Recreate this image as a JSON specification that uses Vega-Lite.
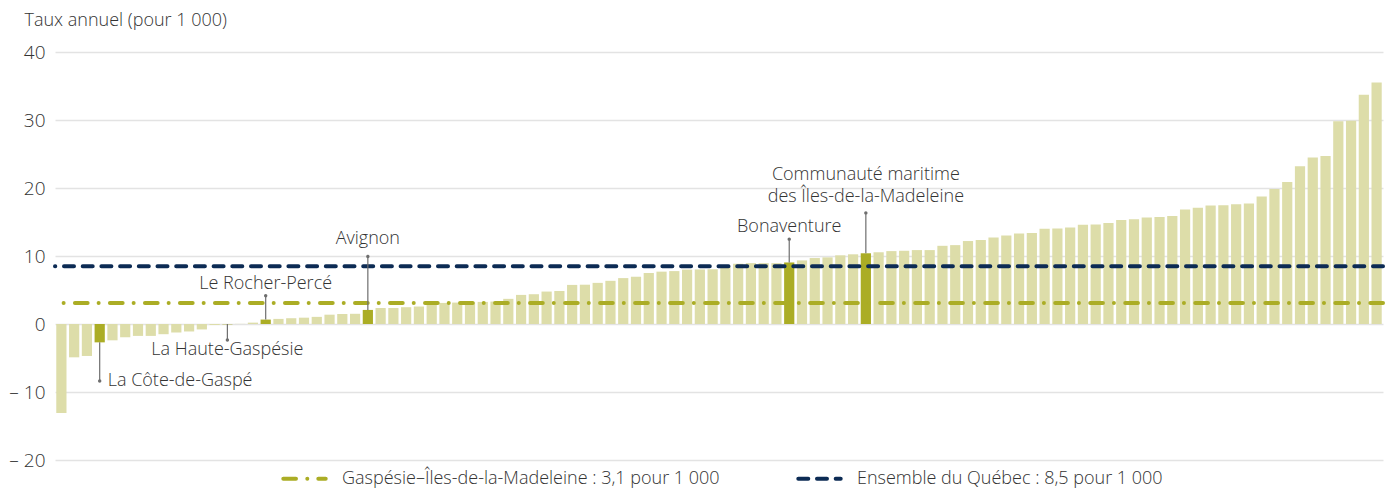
{
  "$schema": "https://vega.github.io/schema/vega-lite/v6.json",
  "width": 1328,
  "height": 408,
  "autosize": "none",
  "padding": {"left": 55, "top": 52, "right": 5, "bottom": 30},
  "config": {
    "font": "Open Sans",
    "view": {"stroke": null}
  },
  "datasets": {
    "barres": [
      {"rang": 1, "valeur": -13.1, "gim": false},
      {"rang": 2, "valeur": -4.9, "gim": false},
      {"rang": 3, "valeur": -4.7, "gim": false},
      {"rang": 4, "valeur": -2.7, "gim": true},
      {"rang": 5, "valeur": -2.4, "gim": false},
      {"rang": 6, "valeur": -1.95, "gim": false},
      {"rang": 7, "valeur": -1.75, "gim": false},
      {"rang": 8, "valeur": -1.75, "gim": false},
      {"rang": 9, "valeur": -1.5, "gim": false},
      {"rang": 10, "valeur": -1.25, "gim": false},
      {"rang": 11, "valeur": -1.1, "gim": false},
      {"rang": 12, "valeur": -0.8, "gim": false},
      {"rang": 13, "valeur": -0.15, "gim": false},
      {"rang": 14, "valeur": -0.05, "gim": true},
      {"rang": 15, "valeur": 0.02, "gim": false},
      {"rang": 16, "valeur": 0.2, "gim": false},
      {"rang": 17, "valeur": 0.65, "gim": true},
      {"rang": 18, "valeur": 0.75, "gim": false},
      {"rang": 19, "valeur": 0.85, "gim": false},
      {"rang": 20, "valeur": 0.93, "gim": false},
      {"rang": 21, "valeur": 1.05, "gim": false},
      {"rang": 22, "valeur": 1.37, "gim": false},
      {"rang": 23, "valeur": 1.47, "gim": false},
      {"rang": 24, "valeur": 1.5, "gim": false},
      {"rang": 25, "valeur": 2.07, "gim": true},
      {"rang": 26, "valeur": 2.35, "gim": false},
      {"rang": 27, "valeur": 2.35, "gim": false},
      {"rang": 28, "valeur": 2.47, "gim": false},
      {"rang": 29, "valeur": 2.57, "gim": false},
      {"rang": 30, "valeur": 2.92, "gim": false},
      {"rang": 31, "valeur": 3.1, "gim": false},
      {"rang": 32, "valeur": 3.15, "gim": false},
      {"rang": 33, "valeur": 3.2, "gim": false},
      {"rang": 34, "valeur": 3.25, "gim": false},
      {"rang": 35, "valeur": 3.3, "gim": false},
      {"rang": 36, "valeur": 3.7, "gim": false},
      {"rang": 37, "valeur": 4.28, "gim": false},
      {"rang": 38, "valeur": 4.38, "gim": false},
      {"rang": 39, "valeur": 4.77, "gim": false},
      {"rang": 40, "valeur": 4.85, "gim": false},
      {"rang": 41, "valeur": 5.75, "gim": false},
      {"rang": 42, "valeur": 5.78, "gim": false},
      {"rang": 43, "valeur": 6.05, "gim": false},
      {"rang": 44, "valeur": 6.35, "gim": false},
      {"rang": 45, "valeur": 6.75, "gim": false},
      {"rang": 46, "valeur": 6.95, "gim": false},
      {"rang": 47, "valeur": 7.5, "gim": false},
      {"rang": 48, "valeur": 7.7, "gim": false},
      {"rang": 49, "valeur": 7.78, "gim": false},
      {"rang": 50, "valeur": 8.0, "gim": false},
      {"rang": 51, "valeur": 8.02, "gim": false},
      {"rang": 52, "valeur": 8.05, "gim": false},
      {"rang": 53, "valeur": 8.4, "gim": false},
      {"rang": 54, "valeur": 8.86, "gim": false},
      {"rang": 55, "valeur": 8.95, "gim": false},
      {"rang": 56, "valeur": 8.95, "gim": false},
      {"rang": 57, "valeur": 8.95, "gim": false},
      {"rang": 58, "valeur": 9.05, "gim": true},
      {"rang": 59, "valeur": 9.35, "gim": false},
      {"rang": 60, "valeur": 9.7, "gim": false},
      {"rang": 61, "valeur": 9.8, "gim": false},
      {"rang": 62, "valeur": 10.1, "gim": false},
      {"rang": 63, "valeur": 10.25, "gim": false},
      {"rang": 64, "valeur": 10.4, "gim": true},
      {"rang": 65, "valeur": 10.55, "gim": false},
      {"rang": 66, "valeur": 10.72, "gim": false},
      {"rang": 67, "valeur": 10.77, "gim": false},
      {"rang": 68, "valeur": 10.87, "gim": false},
      {"rang": 69, "valeur": 10.87, "gim": false},
      {"rang": 70, "valeur": 11.5, "gim": false},
      {"rang": 71, "valeur": 11.6, "gim": false},
      {"rang": 72, "valeur": 12.2, "gim": false},
      {"rang": 73, "valeur": 12.35, "gim": false},
      {"rang": 74, "valeur": 12.73, "gim": false},
      {"rang": 75, "valeur": 13.0, "gim": false},
      {"rang": 76, "valeur": 13.3, "gim": false},
      {"rang": 77, "valeur": 13.38, "gim": false},
      {"rang": 78, "valeur": 14.02, "gim": false},
      {"rang": 79, "valeur": 14.05, "gim": false},
      {"rang": 80, "valeur": 14.2, "gim": false},
      {"rang": 81, "valeur": 14.6, "gim": false},
      {"rang": 82, "valeur": 14.65, "gim": false},
      {"rang": 83, "valeur": 14.85, "gim": false},
      {"rang": 84, "valeur": 15.3, "gim": false},
      {"rang": 85, "valeur": 15.4, "gim": false},
      {"rang": 86, "valeur": 15.68, "gim": false},
      {"rang": 87, "valeur": 15.72, "gim": false},
      {"rang": 88, "valeur": 15.9, "gim": false},
      {"rang": 89, "valeur": 16.85, "gim": false},
      {"rang": 90, "valeur": 17.1, "gim": false},
      {"rang": 91, "valeur": 17.43, "gim": false},
      {"rang": 92, "valeur": 17.48, "gim": false},
      {"rang": 93, "valeur": 17.62, "gim": false},
      {"rang": 94, "valeur": 17.72, "gim": false},
      {"rang": 95, "valeur": 18.75, "gim": false},
      {"rang": 96, "valeur": 19.87, "gim": false},
      {"rang": 97, "valeur": 20.9, "gim": false},
      {"rang": 98, "valeur": 23.2, "gim": false},
      {"rang": 99, "valeur": 24.5, "gim": false},
      {"rang": 100, "valeur": 24.7, "gim": false},
      {"rang": 101, "valeur": 29.8, "gim": false},
      {"rang": 102, "valeur": 29.9, "gim": false},
      {"rang": 103, "valeur": 33.7, "gim": false},
      {"rang": 104, "valeur": 35.5, "gim": false}
    ],
    "reperes": [
      {"serie": "Gaspésie–Îles-de-la-Madeleine : 3,1 pour 1 000", "valeur": 3.1},
      {"serie": "Ensemble du Québec : 8,5 pour 1 000", "valeur": 8.5}
    ],
    "notes": [
      {"rang": 4, "nom": "La Côte-de-Gaspé", "valeur": -2.7, "pointe": -8.37, "etiquette": -8.37, "cote": "droite"},
      {"rang": 14, "nom": "La Haute-Gaspésie", "valeur": 0, "pointe": -2.35, "etiquette": -3.82, "cote": "centre"},
      {"rang": 17, "nom": "Le Rocher-Percé", "valeur": 0.65, "pointe": 4.16, "etiquette": 5.87, "cote": "centre"},
      {"rang": 25, "nom": "Avignon", "valeur": 2.07, "pointe": 9.94, "etiquette": 12.48, "cote": "centre"},
      {"rang": 58, "nom": "Bonaventure", "valeur": 9.05, "pointe": 12.48, "etiquette": 14.29, "cote": "centre"},
      {"rang": 64, "nom": ["Communauté maritime", "des Îles-de-la-Madeleine"], "valeur": 10.4, "pointe": 16.34, "etiquette": 21.88, "cote": "centre"}
    ]
  },
  "layer": [
    {
      "data": {"name": "barres"},
      "mark": {"type": "bar"},
      "encoding": {
        "x": {"field": "rang", "type": "ordinal", "axis": null, "scale": {"paddingInner": 0.2, "paddingOuter": 0.1}},
        "y": {
          "field": "valeur", "type": "quantitative",
          "scale": {"domain": [-20, 40], "nice": false, "zero": false},
          "axis": {
            "values": [-20, -10, 0, 10, 20, 30, 40],
            "grid": true, "gridColor": "#e3e3e3", "gridWidth": 1.5,
            "domain": false, "ticks": false, "labelPadding": 10,
            "labelFontSize": 19, "labelFontWeight": 300, "labelColor": "#333333",
            "labelExpr": "datum.value < 0 ? '– ' + abs(datum.value) : datum.label",
            "title": "Taux annuel (pour 1 000)", "titleAngle": 0, "titleAlign": "left",
            "titleBaseline": "middle", "titleX": -31, "titleY": -32,
            "titleFontSize": 18, "titleFontWeight": 300, "titleColor": "#333333"
          }
        },
        "color": {"condition": {"test": "datum.gim", "value": "#abad25"}, "value": "#dddda9"}
      }
    },
    {
      "mark": {"type": "rule", "color": "#000000", "strokeWidth": 1.5},
      "encoding": {"y": {"datum": 0, "type": "quantitative"}}
    },
    {
      "data": {"name": "reperes"},
      "mark": {"type": "rule", "strokeWidth": 4, "strokeCap": "round"},
      "encoding": {
        "y": {"field": "valeur", "type": "quantitative"},
        "color": {
          "field": "serie", "type": "nominal",
          "scale": {"domain": ["Gaspésie–Îles-de-la-Madeleine : 3,1 pour 1 000", "Ensemble du Québec : 8,5 pour 1 000"], "range": ["#abad25", "#0c2b54"]},
          "legend": {
            "orient": "none", "legendX": 226, "legendY": 403,
            "direction": "horizontal", "title": null,
            "symbolType": "stroke", "symbolSize": 1800, "symbolStrokeWidth": 4,
            "labelFontSize": 18, "labelFontWeight": 300,
            "labelColor": "#333333", "labelLimit": 600,
            "columnPadding": 70, "labelOffset": 14,
            "encoding": {
              "symbols": {
                "strokeDash": {"signal": "indexof(datum.value, 'Gaspésie') === 0 ? [12.7, 11.3, 0.01, 11] : [10, 8.7]"},
                "strokeCap": {"value": "round"}
              }
            }
          }
        },
        "strokeDash": {
          "field": "serie", "type": "nominal",
          "scale": {"domain": ["Gaspésie–Îles-de-la-Madeleine : 3,1 pour 1 000", "Ensemble du Québec : 8,5 pour 1 000"], "range": [[12.7, 11.3, 0.01, 11], [10, 8.7]]},
          "legend": null
        }
      }
    },
    {
      "data": {"name": "notes"},
      "mark": {"type": "rule", "color": "#6e6e6e", "strokeWidth": 1.2},
      "encoding": {
        "x": {"field": "rang", "type": "ordinal"},
        "y": {"field": "valeur", "type": "quantitative"},
        "y2": {"field": "pointe"}
      }
    },
    {
      "data": {"name": "notes"},
      "mark": {"type": "point", "filled": true, "color": "#6e6e6e", "size": 12, "opacity": 1},
      "encoding": {
        "x": {"field": "rang", "type": "ordinal"},
        "y": {"field": "pointe", "type": "quantitative"}
      }
    },
    {
      "data": {"name": "notes"},
      "transform": [{"filter": "datum.cote == 'centre'"}],
      "mark": {"type": "text", "align": "center", "baseline": "middle", "fontSize": 18, "fontWeight": 300, "color": "#333333", "lineHeight": 22},
      "encoding": {
        "x": {"field": "rang", "type": "ordinal"},
        "y": {"field": "etiquette", "type": "quantitative"},
        "text": {"field": "nom"}
      }
    },
    {
      "data": {"name": "notes"},
      "transform": [{"filter": "datum.cote == 'droite'"}],
      "mark": {"type": "text", "align": "left", "baseline": "middle", "fontSize": 18, "fontWeight": 300, "color": "#333333", "dx": 8},
      "encoding": {
        "x": {"field": "rang", "type": "ordinal"},
        "y": {"field": "etiquette", "type": "quantitative"},
        "text": {"field": "nom"}
      }
    }
  ]
}
